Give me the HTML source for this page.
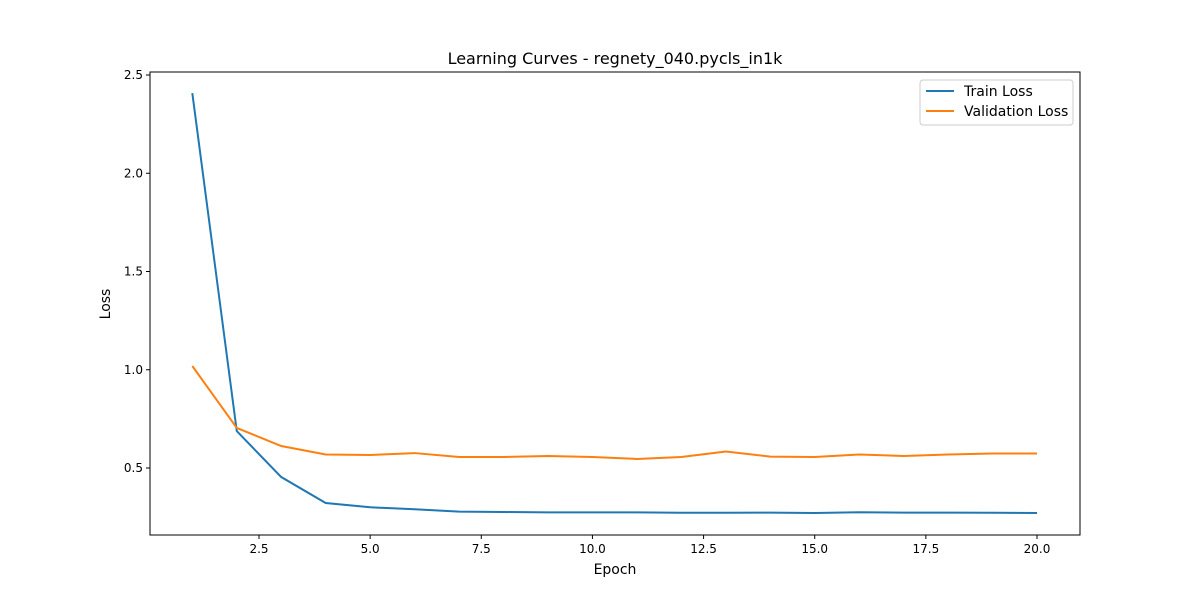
<!DOCTYPE html>
<html><head><meta charset="utf-8"><style>
body{margin:0;background:#fff;}
svg text{font-family:"DejaVu Sans","Liberation Sans",sans-serif;fill:#000;}
</style></head><body>
<svg id="chart" width="1200" height="600" xmlns="http://www.w3.org/2000/svg">
<rect width="1200" height="600" fill="#fff"/>
<text x="615" y="64" font-size="16" text-anchor="middle">Learning Curves - regnety_040.pycls_in1k</text>
<g id="axes"></g>
<g id="series"></g>
<g>
<rect x="920" y="80" width="153" height="45" rx="3" fill="#fff" stroke="#ccc"/>
<line x1="926" y1="91" x2="954" y2="91" stroke="#1f77b4" stroke-width="2"/>
<text x="964" y="96" font-size="14">Train Loss</text>
<line x1="926" y1="111" x2="954" y2="111" stroke="#ff7f0e" stroke-width="2"/>
<text x="964" y="116" font-size="14">Validation Loss</text>
</g>
<text x="615" y="574" font-size="14" text-anchor="middle">Epoch</text>
<text x="110" y="304" font-size="14" text-anchor="middle" transform="rotate(-90 110 304)">Loss</text>
</svg>
<script>
const epochs=[1,2,3,4,5,6,7,8,9,10,11,12,13,14,15,16,17,18,19,20];
const trainLoss=[2.408,0.688,0.454,0.322,0.30,0.29,0.278,0.276,0.274,0.274,0.274,0.272,0.272,0.273,0.271,0.275,0.273,0.273,0.272,0.271];
const valLoss=[1.019,0.704,0.612,0.569,0.566,0.576,0.556,0.556,0.561,0.556,0.546,0.556,0.584,0.558,0.556,0.569,0.561,0.569,0.574,0.574];
const xTicks=[2.5,5.0,7.5,10.0,12.5,15.0,17.5,20.0];
const yTicks=[0.5,1.0,1.5,2.0,2.5];
const NS="http://www.w3.org/2000/svg";
const L=150,R=1080,T=72,B=535;
const xs=v=>259+(v-2.5)*(1037-259)/17.5;
const ys=v=>468-(v-0.5)*196.5;
const axes=document.getElementById('axes'),ser=document.getElementById('series');
function mk(tag,at,parent){const e=document.createElementNS(NS,tag);for(const k in at)e.setAttribute(k,at[k]);parent.appendChild(e);return e;}
const frame=mk('rect',{x:L,y:T,width:R-L,height:B-T,fill:'none',stroke:'#000','stroke-width':1},axes);


xTicks.forEach(t=>{const x=xs(t);
const tk=mk('line',{x1:x,y1:B,x2:x,y2:B+4,stroke:'#000'},axes);


const tx=mk('text',{x:x,y:B+18,'font-size':12,'text-anchor':'middle'},axes);tx.textContent=t.toFixed(1);

});
yTicks.forEach(t=>{const y=ys(t);
const tk=mk('line',{x1:L-4,y1:y,x2:L,y2:y,stroke:'#000'},axes);


const tx=mk('text',{x:L-7,y:y+4,'font-size':12,'text-anchor':'end'},axes);tx.textContent=t.toFixed(1);

});
function line(vals,color,name){const p=mk('polyline',{points:vals.map((v,i)=>xs(epochs[i])+','+ys(v)).join(' '),fill:'none',stroke:color,'stroke-width':2},ser);

}
line(trainLoss,'#1f77b4','train-loss-line');
line(valLoss,'#ff7f0e','validation-loss-line');
</script>
</body></html>
